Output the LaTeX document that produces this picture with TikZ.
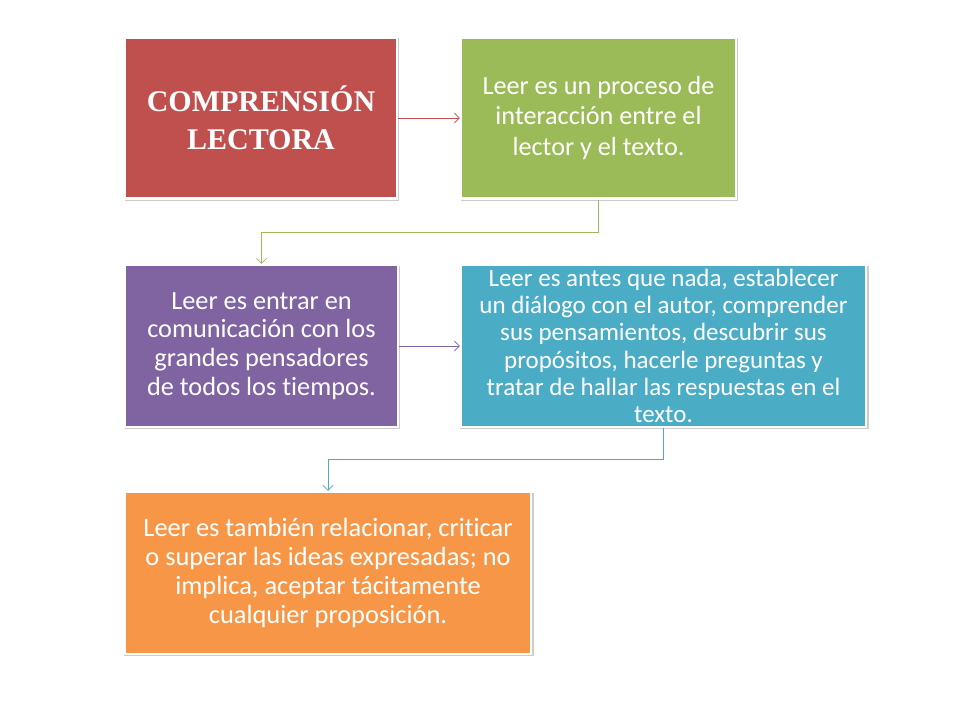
\documentclass[tikz,border=0pt]{standalone}
\usepackage{fontspec}
\setmainfont{Carlito}[Ligatures=NoCommon]
\newfontfamily\titlefont{Liberation Serif}
\usetikzlibrary{arrows.meta,shadows}
\definecolor{cred}{HTML}{C0504D}
\definecolor{cgreen}{HTML}{9BBB59}
\definecolor{cpurple}{HTML}{8064A2}
\definecolor{cblue}{HTML}{4BACC6}
\definecolor{corange}{HTML}{F79646}
\tikzset{
  box/.style={draw=white, line width=2.5pt, text=white, align=center, inner sep=0pt,
    drop shadow={opacity=0.4, shadow xshift=1pt, shadow yshift=-1.6pt, shadow scale=1.01}},
  link/.style={line width=0.7pt, -{Straight Barb[length=5pt,width=10pt]}}
}
\begin{document}
\begin{tikzpicture}[x=1pt,y=-1pt]
\useasboundingbox (0,0) rectangle (960,720);
\node[box, fill=cred, minimum width=272pt, minimum height=161pt,
  font=\titlefont\bfseries\fontsize{30}{38}\selectfont] (b1) at (261,118)
  {COMPRENSIÓN\\LECTORA};
\node[box, fill=cgreen, minimum width=275pt, minimum height=161pt,
  font=\fontsize{26.2}{30.5}\selectfont] (b2) at (598.5,118)
  {Leer es un proceso de\\interacción entre el\\lector y el texto.};
\node[box, fill=cpurple, minimum width=273pt, minimum height=162pt,
  font=\fontsize{26.3}{28.8}\selectfont] (b3) at (261.5,346)
  {Leer es entrar en\\comunicación con los\\grandes pensadores\\de todos los tiempos.};
\node[box, fill=cblue, minimum width=405pt, minimum height=162pt,
  font=\fontsize{25}{27.3}\selectfont] (b4) at (663.5,346)
  {Leer es antes que nada, establecer\\un diálogo con el autor, comprender\\sus pensamientos, descubrir sus\\propósitos, hacerle preguntas y\\tratar de hallar las respuestas en el\\texto.};
\node[box, fill=corange, minimum width=406pt, minimum height=162pt,
  font=\fontsize{26.4}{29}\selectfont] (b5) at (328,573)
  {Leer es también relacionar, criticar\\o superar las ideas expresadas; no\\implica, aceptar tácitamente\\cualquier proposición.};
\draw[link, cred] (b1.east) -- (b2.west);
\draw[link, cgreen] (b2.south) -- ++(0,33) -| (b3.north);
\draw[link, cpurple] (b3.east) -- (b4.west);
\draw[link, cblue] (b4.south) -- ++(0,31) -| (b5.north);
\end{tikzpicture}
\end{document}
